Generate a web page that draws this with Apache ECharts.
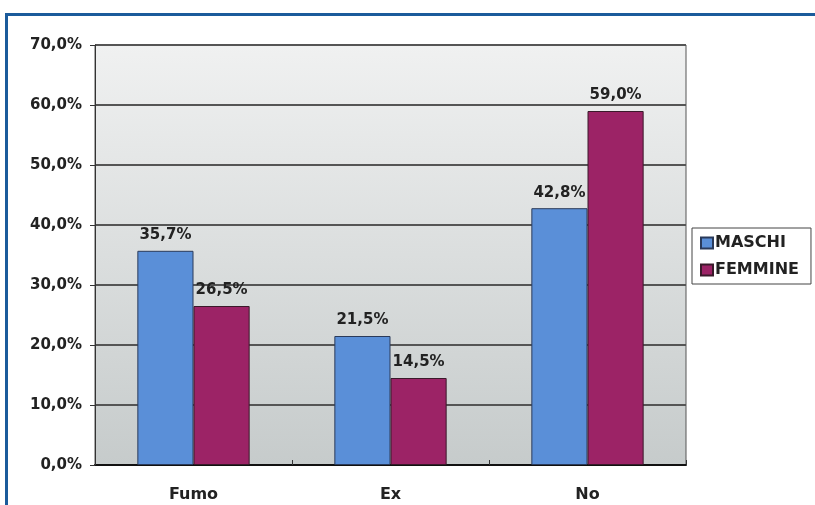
<!DOCTYPE html>
<html>
<head>
<meta charset="utf-8">
<script src="https://cdn.jsdelivr.net/npm/echarts@6/dist/echarts.min.js"></script>
<style>
  html, body { margin: 0; padding: 0; background: #fff; }
  #frame { position: absolute; left: 5px; top: 13px; width: 830px; height: 520px; border: 3px solid #1b5b9b; box-sizing: border-box; }
  #chart { position: absolute; left: 0; top: 0; width: 815px; height: 505px; }
</style>
</head>
<body>
<div id="frame"></div>
<div id="chart"></div>
<script>
const categories = ['Fumo', 'Ex', 'No'];
const maschi = [35.7, 21.5, 42.8];
const femmine = [26.5, 14.5, 59.0];

const pct = v => v.toFixed(1).replace('.', ',') + '%';
const font = 'DejaVu Sans, sans-serif';

const chart = echarts.init(document.getElementById('chart'));
chart.setOption({
  animation: false,
  textStyle: { fontFamily: font },
  grid: {
    left: 95, right: 129, top: 45, bottom: 40,
    show: true,
    borderColor: '#555',
    borderWidth: 1,
    backgroundColor: {
      type: 'linear', x: 0, y: 0, x2: 0, y2: 1,
      colorStops: [{offset: 0, color: '#f0f1f1'}, {offset: 1, color: '#c6cbcb'}]
    }
  },
  legend: {
    orient: 'vertical',
    left: 692, top: 228,
    itemWidth: 12, itemHeight: 11, itemGap: 11,
    padding: [7, 12, 6, 8],
    borderColor: '#444', borderWidth: 1,
    backgroundColor: '#fff',
    textStyle: { fontFamily: font, fontWeight: 'bold', fontSize: 16, color: '#222', padding: [0, 0, 0, -3] },
    data: [
      { name: 'MASCHI', icon: 'rect' },
      { name: 'FEMMINE', icon: 'rect' }
    ]
  },
  xAxis: {
    type: 'category',
    data: categories,
    axisLine: { lineStyle: { color: '#111', width: 2 } },
    axisTick: { show: true, inside: true, length: 5, lineStyle: { color: '#333' } },
    axisLabel: { fontFamily: font, fontWeight: 'bold', fontSize: 16, color: '#222', margin: 22 }
  },
  yAxis: {
    type: 'value',
    min: 0, max: 70, interval: 10,
    axisLine: { show: true, lineStyle: { color: '#333', width: 1 } },
    axisTick: { show: true, length: 5, lineStyle: { color: '#333' } },
    axisLabel: { fontFamily: font, fontWeight: 'bold', fontSize: 15, color: '#222', margin: 13, formatter: v => pct(v) },
    splitLine: { lineStyle: { color: '#555', width: 2 } }
  },
  series: [
    {
      name: 'MASCHI', type: 'bar', data: maschi,
      barGap: 0, barCategoryGap: '43%',
      itemStyle: { color: '#5a8fd8', borderColor: '#2a3a5a', borderWidth: 1 },
      label: { show: true, position: 'top', distance: 8, formatter: p => pct(p.value), fontFamily: font, fontWeight: 'bold', fontSize: 15, color: '#222' }
    },
    {
      name: 'FEMMINE', type: 'bar', data: femmine,
      itemStyle: { color: '#9c2366', borderColor: '#3a1a2a', borderWidth: 1 },
      label: { show: true, position: 'top', distance: 8, formatter: p => pct(p.value), fontFamily: font, fontWeight: 'bold', fontSize: 15, color: '#222' }
    }
  ]
});
</script>
</body>
</html>
